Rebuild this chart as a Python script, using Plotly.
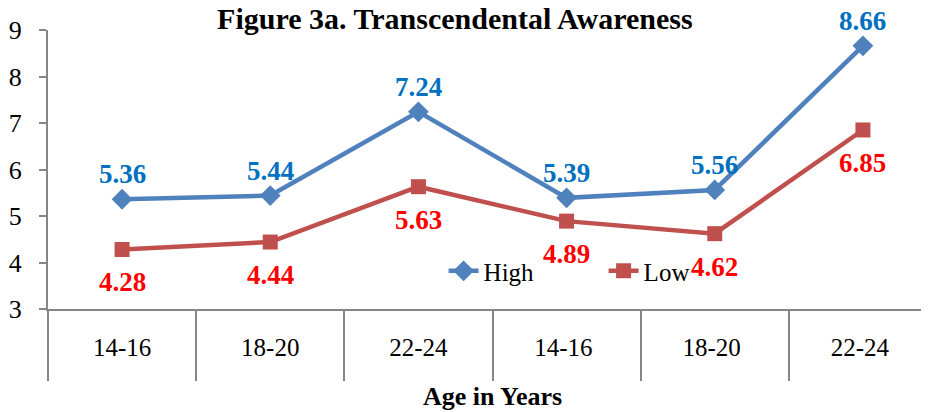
import plotly.graph_objects as go

# categories repeat, so trailing spaces keep them unique on the category axis
age_groups = ['14-16', '18-20', '22-24', '14-16 ', '18-20 ', '22-24 ']
high = [5.36, 5.44, 7.24, 5.39, 5.56, 8.66]
low = [4.28, 4.44, 5.63, 4.89, 4.62, 6.85]
y_ticks = [3, 4, 5, 6, 7, 8, 9]

serif = 'Liberation Serif, Times New Roman, serif'
axis_gray = 'rgb(134,134,134)'

fig = go.Figure()

fig.add_trace(go.Scatter(
    x=age_groups, y=high, name='High', mode='lines+markers',
    line=dict(color='#4F81BD', width=4.5),
    marker=dict(symbol='diamond', size=16, color='#4F81BD'),
))

fig.add_trace(go.Scatter(
    x=age_groups, y=low, name='Low', mode='lines+markers',
    line=dict(color='#C0504D', width=4.5),
    marker=dict(symbol='square', size=15, color='#C0504D'),
))

annotations = []
# data labels: High above, Low below
for xv, yv in zip(age_groups, high):
    annotations.append(dict(x=xv, y=yv, yshift=25, showarrow=False,
                            text='<b>{:.2f}</b>'.format(yv),
                            font=dict(family=serif, size=27, color='#0070C0')))
for xv, yv in zip(age_groups, low):
    annotations.append(dict(x=xv, y=yv, yshift=-33, showarrow=False,
                            text='<b>{:.2f}</b>'.format(yv),
                            font=dict(family=serif, size=27, color='#FF0000')))
# axis title
annotations.append(dict(xref='paper', yref='paper', x=0.5, y=-0.312,
                        xanchor='center', yanchor='middle', showarrow=False,
                        text='<b>Age in Years</b>',
                        font=dict(family=serif, size=26, color='black')))

# the page adds an 8px body margin, so margins are trimmed by 8px
fig.update_layout(
    width=929, height=412,
    margin=dict(l=40, r=0, t=22, b=111),
    plot_bgcolor='white', paper_bgcolor='white',
    font=dict(family=serif, size=25, color='black'),
    title=dict(text='<b>Figure 3a. Transcendental Awareness</b>',
               x=0.481, xanchor='center', y=0.974, yanchor='middle',
               font=dict(family=serif, size=30, color='black')),
    xaxis=dict(
        type='category', range=[-0.5, 5.5], automargin=False,
        tickson='boundaries', ticks='outside', ticklen=70,
        tickcolor=axis_gray, tickwidth=2,
        ticklabelstandoff=15,
        showline=True, linecolor=axis_gray, linewidth=2,
        showgrid=False, zeroline=False,
        tickfont=dict(family=serif, size=25, color='black'),
    ),
    yaxis=dict(
        range=[3, 9], tickvals=y_ticks, automargin=False,
        ticks='outside', ticklen=7, tickcolor=axis_gray, tickwidth=2,
        ticklabelstandoff=12,
        showline=True, linecolor=axis_gray, linewidth=2,
        showgrid=False, zeroline=False,
        tickfont=dict(family=serif, size=26, color='black'),
    ),
    legend=dict(orientation='h', x=0.445, xanchor='left', y=0.136, yanchor='middle',
                bgcolor='rgba(0,0,0,0)', font=dict(family=serif, size=25),
                entrywidth=115, entrywidthmode='pixels'),
    annotations=annotations,
)

fig.write_html('out.html')
